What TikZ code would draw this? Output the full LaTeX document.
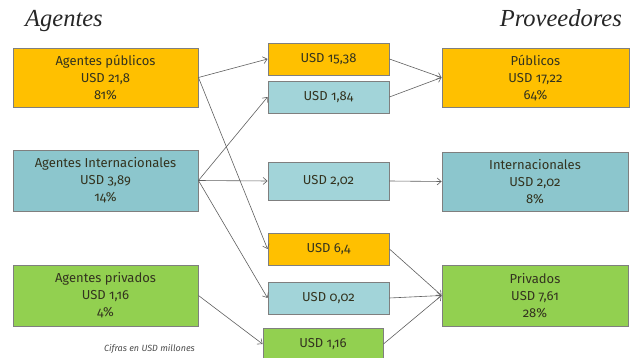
\documentclass[tikz,border=0pt]{standalone}
\usepackage{fontspec}
\setmainfont{Fira Sans}[Numbers=OldStyle]
\newfontfamily\titlefont{Liberation Serif}[ItalicFont={Liberation Serif Italic}]
\usetikzlibrary{arrows.meta}
\definecolor{cgold}{HTML}{FFC000}
\definecolor{cteal}{HTML}{8CC6CD}
\definecolor{clteal}{HTML}{A2D4D9}
\definecolor{cgreen}{HTML}{92D050}
\definecolor{cborder}{HTML}{7F7F7F}
\definecolor{ctext}{HTML}{33331F}
\definecolor{cline}{HTML}{5F5F5F}
\begin{document}
\begin{tikzpicture}[x=1pt,y=-1pt,
  box/.style={draw=cborder,line width=0.9pt,text=ctext,align=center,inner sep=0pt,
    font=\fontsize{13}{17}\selectfont},
  flow/.style={draw=cline,line width=0.6pt,-{Straight Barb[length=4pt,width=7pt]}},
  heading/.style={font=\titlefont\itshape\fontsize{24.5}{26}\selectfont,text=black!85,inner sep=0pt}]
\useasboundingbox (0,0) rectangle (630,358);
\node[heading,anchor=base west] (tA) at (25,27) {Agentes};
\node[heading,anchor=base east] (tP) at (622,27) {Proveedores};
% left
\node[box,fill=cgold,minimum width=185pt,minimum height=59pt] (ap) at (105.5,77.5) {Agentes públicos\\USD 21,8\\81\%};
\node[box,fill=cteal,minimum width=185pt,minimum height=61pt] (ai) at (105.5,180.5) {Agentes Internacionales\\USD 3,89\\14\%};
\node[box,fill=cgreen,minimum width=185pt,minimum height=61pt] (apr) at (105.5,295.5) {Agentes privados\\USD 1,16\\4\%};
% middle
\node[box,fill=cgold,minimum width=121pt,minimum height=32pt] (m1) at (328.5,59) {USD 15,38};
\node[box,fill=clteal,minimum width=121pt,minimum height=32pt] (m2) at (328.5,97) {USD 1,84};
\node[box,fill=clteal,minimum width=121pt,minimum height=38pt] (m3) at (328.5,181) {USD 2,02};
\node[box,fill=cgold,minimum width=121pt,minimum height=32pt] (m4) at (328.5,249) {USD 6,4};
\node[box,fill=clteal,minimum width=121pt,minimum height=32pt] (m5) at (328.5,298) {USD 0,02};
\node[box,fill=cgreen,minimum width=120pt,minimum height=32pt] (m6) at (323,344) {USD 1,16};
% right
\node[box,fill=cgold,minimum width=187pt,minimum height=59pt] (rp) at (535.5,77.5) {Públicos\\USD 17,22\\64\%};
\node[box,fill=cteal,minimum width=186pt,minimum height=59pt] (ri) at (535,181.5) {Internacionales\\USD 2,02\\8\%};
\node[box,fill=cgreen,minimum width=186pt,minimum height=61pt] (rpr) at (535,295.5) {Privados\\USD 7,61\\28\%};
% footnote
\node[anchor=base east,inner sep=0pt,text=black!70,font=\itshape\fontsize{9}{10}\selectfont] (fn) at (195,352) {Cifras en USD millones};
% connectors
\draw[flow] (ap.east) -- (m1.west);
\draw[flow] (ap.east) -- (m4.west);
\draw[flow] (ai.east) -- (m2.west);
\draw[flow] (ai.east) -- (m3.west);
\draw[flow] (ai.east) -- (m5.west);
\draw[flow] (apr.east) -- (m6.west);
\draw[flow] (m1.east) -- (rp.west);
\draw[flow] (m2.east) -- (rp.west);
\draw[flow] (m3.east) -- (ri.west);
\draw[flow] (m4.east) -- (rpr.west);
\draw[flow] (m5.east) -- (rpr.west);
\draw[flow] (m6.east) -- (rpr.west);
\end{tikzpicture}
\end{document}
